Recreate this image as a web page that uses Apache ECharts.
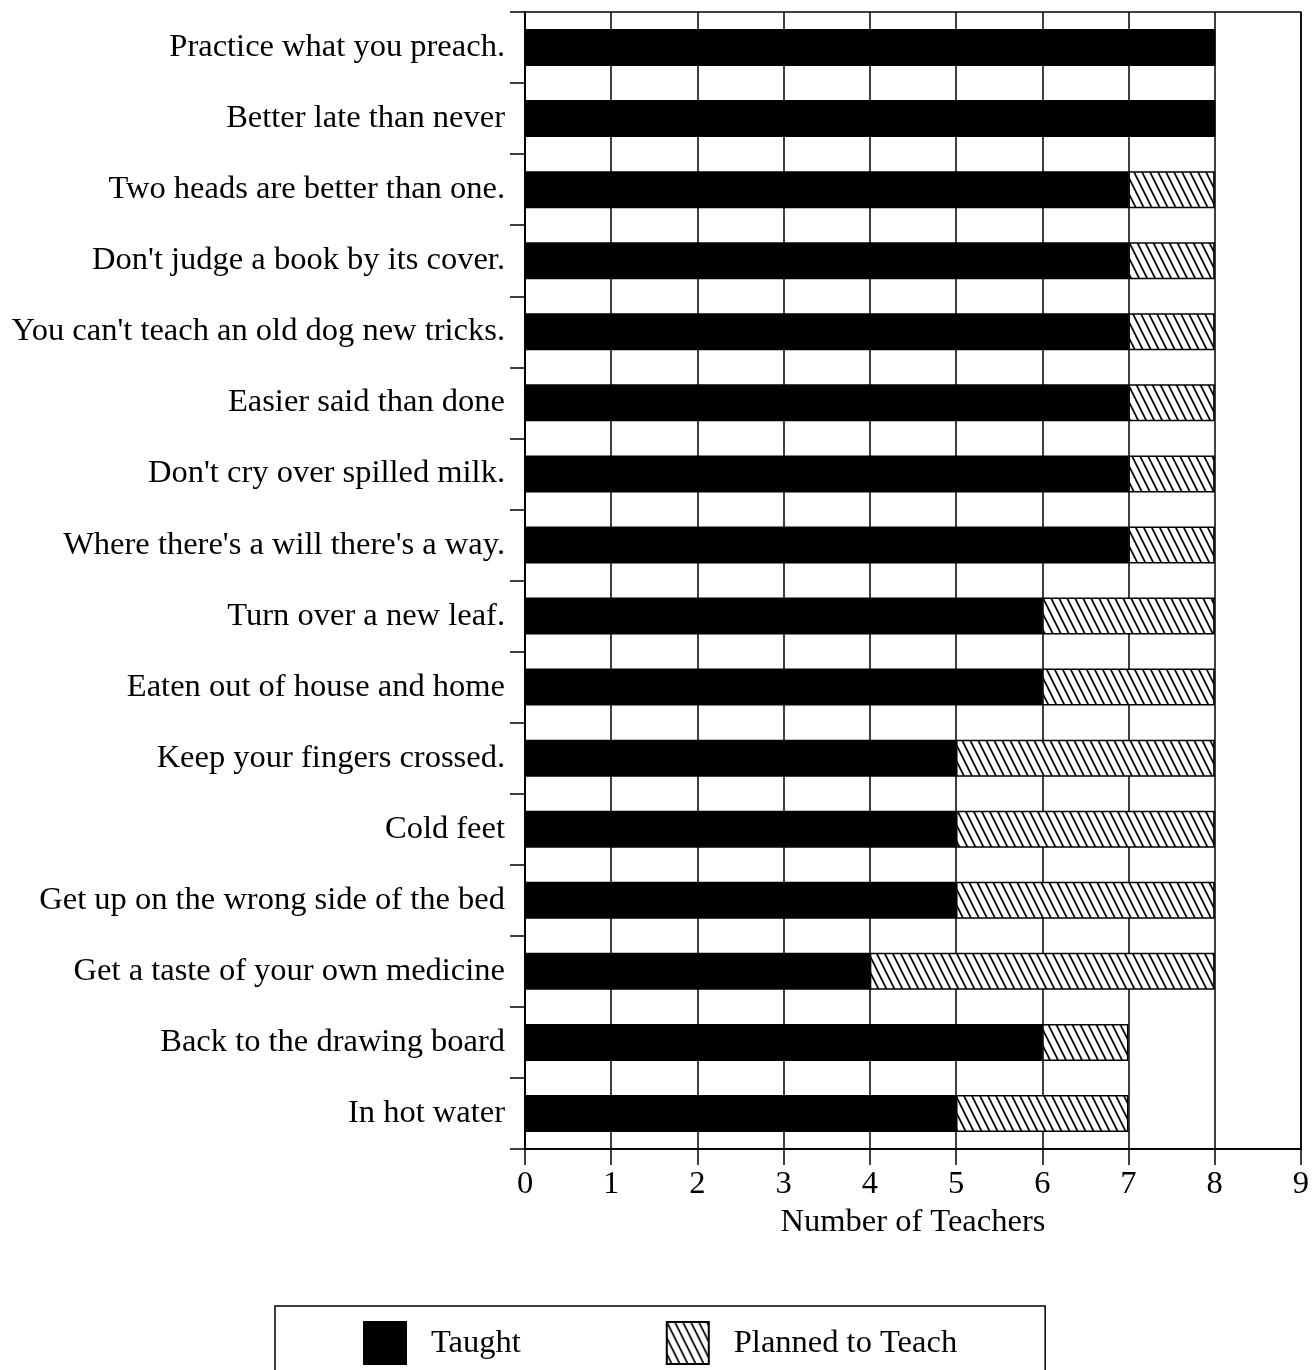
<!DOCTYPE html>
<html>
<head>
<meta charset="utf-8">
<script src="https://cdn.jsdelivr.net/npm/echarts@6/dist/echarts.min.js"></script>
<style>
html,body{margin:0;padding:0;background:#fff;}
#chart{width:1312px;height:1370px;}
</style>
</head>
<body>
<div id="chart"></div>
<script>
const categories = [
  "Practice what you preach.",
  "Better late than never",
  "Two heads are better than one.",
  "Don't judge a book by its cover.",
  "You can't teach an old dog new tricks.",
  "Easier said than done",
  "Don't cry over spilled milk.",
  "Where there's a will there's a way.",
  "Turn over a new leaf.",
  "Eaten out of house and home",
  "Keep your fingers crossed.",
  "Cold feet",
  "Get up on the wrong side of the bed",
  "Get a taste of your own medicine",
  "Back to the drawing board",
  "In hot water"
];
const taught =  [8, 8, 7, 7, 7, 7, 7, 7, 6, 6, 5, 5, 5, 4, 6, 5];
const planned = [0, 0, 1, 1, 1, 1, 1, 1, 2, 2, 3, 3, 3, 4, 1, 2];
const xTicks = [0, 1, 2, 3, 4, 5, 6, 7, 8, 9];

// hatch pattern (steep "\" lines)
function makeHatch() {
  const w = 8, h = 16;
  const c = document.createElement('canvas');
  c.width = w; c.height = h;
  const g = c.getContext('2d');
  g.fillStyle = '#fff';
  g.fillRect(0, 0, w, h);
  g.strokeStyle = '#000';
  g.lineWidth = 1.7;
  g.beginPath();
  [-w, 0, w].forEach(function (dx) {
    g.moveTo(dx - w, -h); g.lineTo(dx + 2 * w, 2 * h);
  });
  g.stroke();
  return c;
}
const hatch = makeHatch();

const FONT = "'Liberation Serif', 'Times New Roman', serif";
const FS = 32.5;
const chart = echarts.init(document.getElementById('chart'));
chart.setOption({
  backgroundColor: '#fff',
  animation: false,
  textStyle: { fontFamily: FONT, color: '#000' },
  grid: {
    left: 525, top: 12, width: 777, height: 1137,
    show: true, borderColor: '#000', borderWidth: 1.5, backgroundColor: '#fff'
  },
  xAxis: {
    type: 'value',
    min: xTicks[0], max: xTicks[xTicks.length - 1], interval: 1,
    name: 'Number of Teachers',
    nameLocation: 'middle',
    nameGap: 56,
    nameTextStyle: { fontSize: FS, fontFamily: FONT, color: '#000' },
    axisLine: { show: true, lineStyle: { color: '#000', width: 2 } },
    axisTick: { show: true, length: 16, lineStyle: { color: '#000', width: 1.5 } },
    axisLabel: { fontSize: FS, fontFamily: FONT, color: '#000', margin: 19 },
    splitLine: { show: true, lineStyle: { color: '#000', width: 1.5 } }
  },
  yAxis: {
    type: 'category',
    data: categories,
    inverse: true,
    axisLine: { show: true, lineStyle: { color: '#000', width: 2 } },
    axisTick: { show: true, length: 15, lineStyle: { color: '#000', width: 1.5 } },
    axisLabel: { fontSize: FS, fontFamily: FONT, color: '#000', margin: 20 },
    splitLine: { show: false }
  },
  legend: {
    left: 275, top: 1306,
    orient: 'horizontal',
    icon: 'rect',
    itemWidth: 42, itemHeight: 42,
    itemGap: 145,
    padding: [15, 88, 40, 88],
    borderColor: '#000', borderWidth: 1.5,
    textStyle: { fontSize: FS, fontFamily: FONT, color: '#000', padding: [0, 0, 0, 20] },
    data: ['Taught', 'Planned to Teach']
  },
  series: [
    {
      name: 'Taught', type: 'bar', stack: 'total', barWidth: 37,
      itemStyle: { color: '#000', borderColor: '#000', borderWidth: 1.5 },
      data: taught
    },
    {
      name: 'Planned to Teach', type: 'bar', stack: 'total', barWidth: 37,
      itemStyle: { color: { image: hatch, repeat: 'repeat' }, borderColor: '#000', borderWidth: 1.5 },
      data: planned
    }
  ]
});
</script>
</body>
</html>
